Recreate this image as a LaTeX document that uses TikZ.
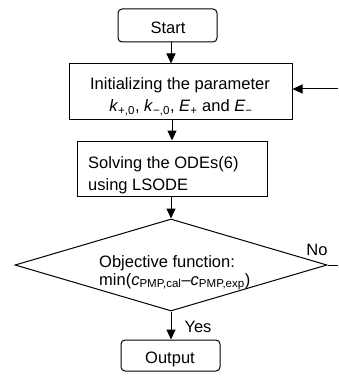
\documentclass[tikz,border=0pt]{standalone}
\usepackage{fontspec}
\setmainfont{Liberation Sans}
\usetikzlibrary{arrows.meta,shapes.geometric}
\begin{document}
\begin{tikzpicture}[x=1pt,y=-1pt,
  every node/.style={font=\fontsize{16.5}{22}\selectfont},
  term/.style={draw,line width=1pt,rounded corners=4pt,inner sep=0pt},
  proc/.style={draw,line width=1pt,inner sep=0pt},
  lbl/.style={inner sep=0pt},
  arr/.style={line width=1pt,-{Triangle[length=10pt,width=9pt]}},
  ln/.style={line width=1pt}]
\useasboundingbox (0,0) rectangle (338,377);
% nodes
\node[term,minimum width=99pt,minimum height=33pt] (start) at (167.5,25.5) {};
\node[lbl,anchor=base] (starttxt) at (168,34) {Start};
\node[proc,minimum width=223pt,minimum height=55pt] (init) at (180.5,91.5) {};
\node[lbl,anchor=base] (init1) at (180,90) {Initializing the parameter};
\node[lbl,anchor=base] (init2) at (181,112) {\textit{k}\textsubscript{+,0}, \textit{k}\textsubscript{−,0}, \textit{E}\textsubscript{+} and \textit{E}\textsubscript{−}};
\node[proc,minimum width=190pt,minimum height=55pt] (solve) at (172,168.5) {};
\node[lbl,anchor=base west] (solve1) at (88,168) {Solving the ODEs(6)};
\node[lbl,anchor=base west] (solve2) at (88,190) {using LSODE};
\node[draw,line width=1pt,diamond,minimum width=312pt,minimum height=92pt,inner sep=0pt] (dec) at (171,265) {};
\node[lbl,anchor=base west] (dec1) at (99,267) {Objective function:};
\node[lbl,anchor=base west] (dec2) at (99,285) {min(\textit{c}\textsubscript{PMP,cal}–\textit{c}\textsubscript{PMP,exp})};
\node[term,minimum width=99pt,minimum height=31pt] (out) at (170.5,355.5) {};
\node[lbl,anchor=base] (outtxt) at (170,363) {Output};
\node[lbl,anchor=base] (no) at (317,255) {No};
\node[lbl,anchor=base] (yes) at (198,332) {Yes};
% helper coordinates
\coordinate (ax) at (171,0);
\coordinate (ax2) at (172,0);
\coordinate (rin) at (338,89);
\coordinate (rout) at (338,265);
% connectors
\draw[arr] (start.south -| ax) -- (init.north -| ax);
\draw[arr] (rin) -- (init.east |- rin);
\draw[arr] (init.south -| ax2) -- (solve.north -| ax2);
\draw[arr] (solve.south -| ax) -- (dec.north);
\draw[ln] (dec.east) -- (rout);
\draw[arr] (dec.south) -- (out.north -| dec.south);
\end{tikzpicture}
\end{document}
